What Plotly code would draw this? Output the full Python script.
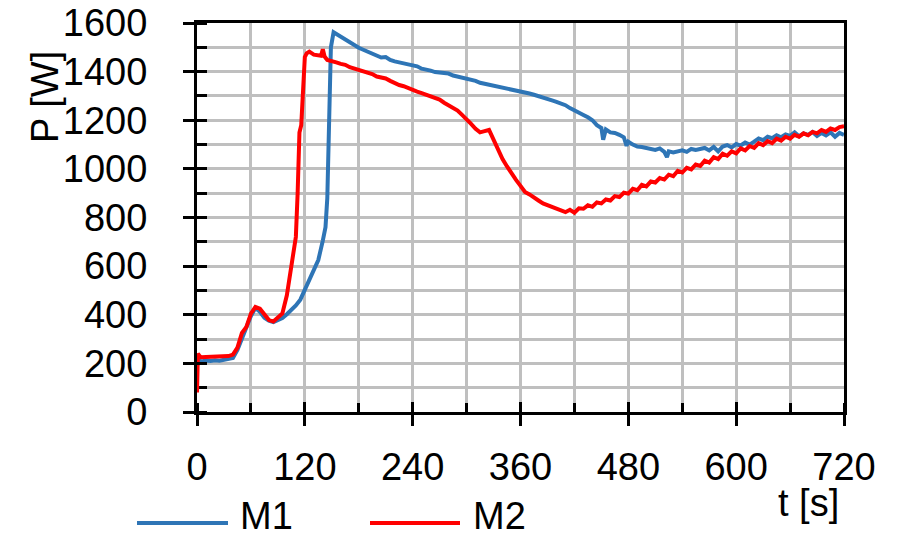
import plotly.graph_objects as go

# ---- data ----
t_m1 = [0, 2, 5, 10, 15, 20, 25, 30, 35, 40, 45, 50, 55, 60, 65, 70, 75, 80, 85, 90,
        95, 100, 105, 110, 115, 120, 125, 130, 135, 140, 143, 145, 147, 149, 152, 155,
        160, 165, 170, 175, 180, 185, 190, 195, 200, 205, 210, 215, 220, 225, 230, 235,
        240, 245, 250, 255, 260, 265, 270, 275, 280, 285, 290, 295, 300, 305, 310, 315,
        320, 325, 330, 335, 340, 345, 350, 355, 360, 365, 370, 375, 380, 385, 390, 395,
        400, 405, 410, 415, 420, 425, 430, 435, 440, 445, 450, 452, 455, 460, 465, 470,
        475, 478, 480, 485, 490, 495, 500, 505, 510, 515, 520, 523, 525, 530, 535, 540,
        545, 550, 555, 560, 565, 570, 575, 580, 585, 590, 595, 600, 605, 610, 615, 620,
        625, 630, 635, 640, 645, 650, 655, 660, 665, 670, 675, 680, 685, 690, 695, 700,
        705, 710, 715, 720]
p_m1 = [190, 212, 208, 212, 210, 213, 211, 214, 215, 222, 255, 300, 345, 395, 428, 412,
        388, 376, 370, 378, 386, 402, 418, 438, 462, 505, 540, 590, 625, 705, 760, 880,
        1220, 1500, 1562, 1555, 1545, 1530, 1522, 1508, 1498, 1490, 1482, 1470, 1466,
        1458, 1460, 1448, 1442, 1440, 1434, 1430, 1425, 1422, 1412, 1410, 1404, 1398,
        1396, 1390, 1392, 1384, 1380, 1378, 1372, 1368, 1362, 1354, 1350, 1348, 1342,
        1340, 1334, 1330, 1328, 1322, 1322, 1314, 1310, 1305, 1300, 1296, 1290, 1282,
        1276, 1270, 1262, 1250, 1242, 1232, 1222, 1212, 1200, 1180, 1168, 1120, 1162,
        1150, 1148, 1140, 1130, 1095, 1112, 1100, 1092, 1090, 1085, 1082, 1078, 1084,
        1070, 1048, 1072, 1068, 1074, 1076, 1070, 1082, 1078, 1080, 1086, 1076, 1090,
        1072, 1092, 1098, 1088, 1102, 1096, 1108, 1100, 1112, 1125, 1118, 1132, 1126,
        1138, 1130, 1142, 1136, 1150, 1134, 1146, 1140, 1152, 1135, 1148, 1138, 1150,
        1132, 1148, 1140]

t_m2 = [0, 1, 3, 5, 10, 15, 20, 25, 30, 35, 40, 45, 50, 55, 60, 65, 70, 75, 80, 85,
        90, 95, 100, 103, 105, 108, 110, 112, 114, 116, 118, 120, 122, 125, 130, 135,
        138, 140, 142, 145, 150, 155, 160, 165, 170, 175, 180, 185, 190, 195, 200, 205,
        210, 215, 220, 225, 230, 235, 240, 245, 250, 255, 260, 265, 270, 275, 280, 285,
        290, 295, 300, 305, 310, 315, 320, 325, 330, 335, 340, 345, 350, 355, 360, 365,
        370, 375, 380, 385, 390, 395, 400, 405, 410, 415, 420, 425, 430, 435, 440, 445,
        450, 455, 460, 465, 470, 475, 480, 485, 490, 495, 500, 505, 510, 515, 520, 525,
        530, 535, 540, 545, 550, 555, 560, 565, 570, 575, 580, 585, 590, 595, 600, 605,
        610, 615, 620, 625, 630, 635, 640, 645, 650, 655, 660, 665, 670, 675, 680, 685,
        690, 695, 700, 705, 710, 715, 720]
p_m2 = [80, 240, 230, 225, 226, 227, 228, 228, 229, 230, 236, 265, 325, 350, 405, 432,
        425, 398, 378, 372, 388, 405, 480, 560, 600, 690, 720, 900, 1150, 1180, 1300,
        1460, 1475, 1482, 1470, 1468, 1465, 1492, 1462, 1448, 1445, 1438, 1432, 1428,
        1418, 1412, 1410, 1400, 1395, 1390, 1380, 1376, 1372, 1362, 1352, 1345, 1340,
        1332, 1322, 1318, 1312, 1305, 1300, 1292, 1285, 1272, 1262, 1250, 1240, 1222,
        1205, 1185, 1165, 1150, 1155, 1160, 1120, 1075, 1040, 1010, 980, 955, 930, 905,
        895, 880, 870, 858, 850, 842, 838, 830, 822, 832, 820, 838, 836, 850, 844, 862,
        858, 874, 870, 888, 884, 902, 898, 918, 912, 934, 928, 948, 944, 962, 956, 976,
        970, 992, 985, 1004, 998, 1018, 1012, 1034, 1026, 1048, 1040, 1062, 1054, 1072,
        1064, 1084, 1076, 1094, 1086, 1106, 1098, 1114, 1106, 1124, 1116, 1132, 1124,
        1140, 1132, 1146, 1138, 1152, 1146, 1160, 1152, 1166, 1160, 1172, 1175]

x_ticks = [0, 120, 240, 360, 480, 600, 720]
y_ticks = [0, 200, 400, 600, 800, 1000, 1200, 1400, 1600]
series_names = ["M1", "M2"]

FONT = "Liberation Sans, Arial, sans-serif"
FS = 38
BLUE = "#2E75B6"
RED = "#FF0000"
GRID = "#BFBFBF"

# plot-area geometry in pixels (for paper-coordinate conversion of decorations)
L, R, T, B = 197, 844, 23, 412
def px(xp):
    return (xp - L) / (R - L)
def py(yp):
    return (B - yp) / (B - T)

fig = go.Figure()
fig.add_trace(go.Scatter(x=t_m1, y=p_m1, mode="lines", name=series_names[0],
                         line=dict(color=BLUE, width=4), showlegend=False))
fig.add_trace(go.Scatter(x=t_m2, y=p_m2, mode="lines", name=series_names[1],
                         line=dict(color=RED, width=4), showlegend=False))
fig.add_trace(go.Scatter(x=[None], y=[None], xaxis="x2", yaxis="y2",
                         showlegend=False, hoverinfo="skip"))

# manual legend (long line samples like the reference)
legend_items = [(series_names[0], BLUE, 137, 228, 238), (series_names[1], RED, 370, 460, 471)]
shapes = []
annotations = []
for name, col, x0, x1, xt in legend_items:
    shapes.append(dict(type="line", xref="paper", yref="paper",
                       x0=px(x0), x1=px(x1), y0=py(523), y1=py(523),
                       line=dict(color=col, width=4)))
    annotations.append(dict(text=name, xref="paper", yref="paper", x=px(xt), y=py(539),
                            xanchor="left", yanchor="bottom", showarrow=False,
                            font=dict(family=FONT, size=FS, color="black")))

annotations.append(dict(text="t [s]", xref="paper", yref="paper", x=px(841), y=py(503),
                        xanchor="right", yanchor="middle", showarrow=False,
                        font=dict(family=FONT, size=FS, color="black")))
annotations.append(dict(text="P [W]", xref="paper", yref="paper", x=px(45), y=py(97),
                        xanchor="center", yanchor="middle", textangle=-90, showarrow=False,
                        font=dict(family=FONT, size=FS, color="black")))

fig.update_layout(
    width=907, height=540,
    margin=dict(l=L, r=907 - R, t=T, b=540 - B, autoexpand=False),
    paper_bgcolor="white", plot_bgcolor="white",
    font=dict(family=FONT, size=FS, color="black"),
    showlegend=False,
    xaxis=dict(range=[0, 720], tickvals=x_ticks, ticktext=[str(v) for v in x_ticks],
               showgrid=False, zeroline=False,
               showline=True, linecolor="black", linewidth=3, mirror=True,
               ticks="outside", ticklen=11, tickwidth=3, tickcolor="black",
               ticklabelstandoff=8,
               minor=dict(dtick=60, tick0=0, showgrid=True, gridcolor=GRID, gridwidth=2.5,
                          ticks="inside", ticklen=9, tickwidth=2.5, tickcolor="black"),
               layer="below traces"),
    yaxis=dict(range=[0, 1600], tickvals=y_ticks, ticktext=[str(v) for v in y_ticks],
               showgrid=True, gridcolor=GRID, gridwidth=2.5, zeroline=False,
               showline=True, linecolor="black", linewidth=3, mirror=True,
               ticks="outside", ticklen=11, tickwidth=3, tickcolor="black",
               ticklabelstandoff=28,
               minor=dict(dtick=100, tick0=0, showgrid=True, gridcolor=GRID, gridwidth=2.5,
                          ticks="inside", ticklen=10, tickwidth=2.5, tickcolor="black"),
               layer="below traces"),
    xaxis2=dict(range=[0, 720], overlaying="x", anchor="y", side="bottom",
                tickvals=x_ticks, showticklabels=False, showgrid=False, zeroline=False,
                showline=False, ticks="inside", ticklen=10, tickwidth=3, tickcolor="black"),
    yaxis2=dict(range=[0, 1600], overlaying="y", anchor="x", side="left",
                tickvals=y_ticks, showticklabels=False, showgrid=False, zeroline=False,
                showline=False, ticks="inside", ticklen=10, tickwidth=3, tickcolor="black"),
    shapes=shapes,
    annotations=annotations,
)

fig.write_html("out.html")
